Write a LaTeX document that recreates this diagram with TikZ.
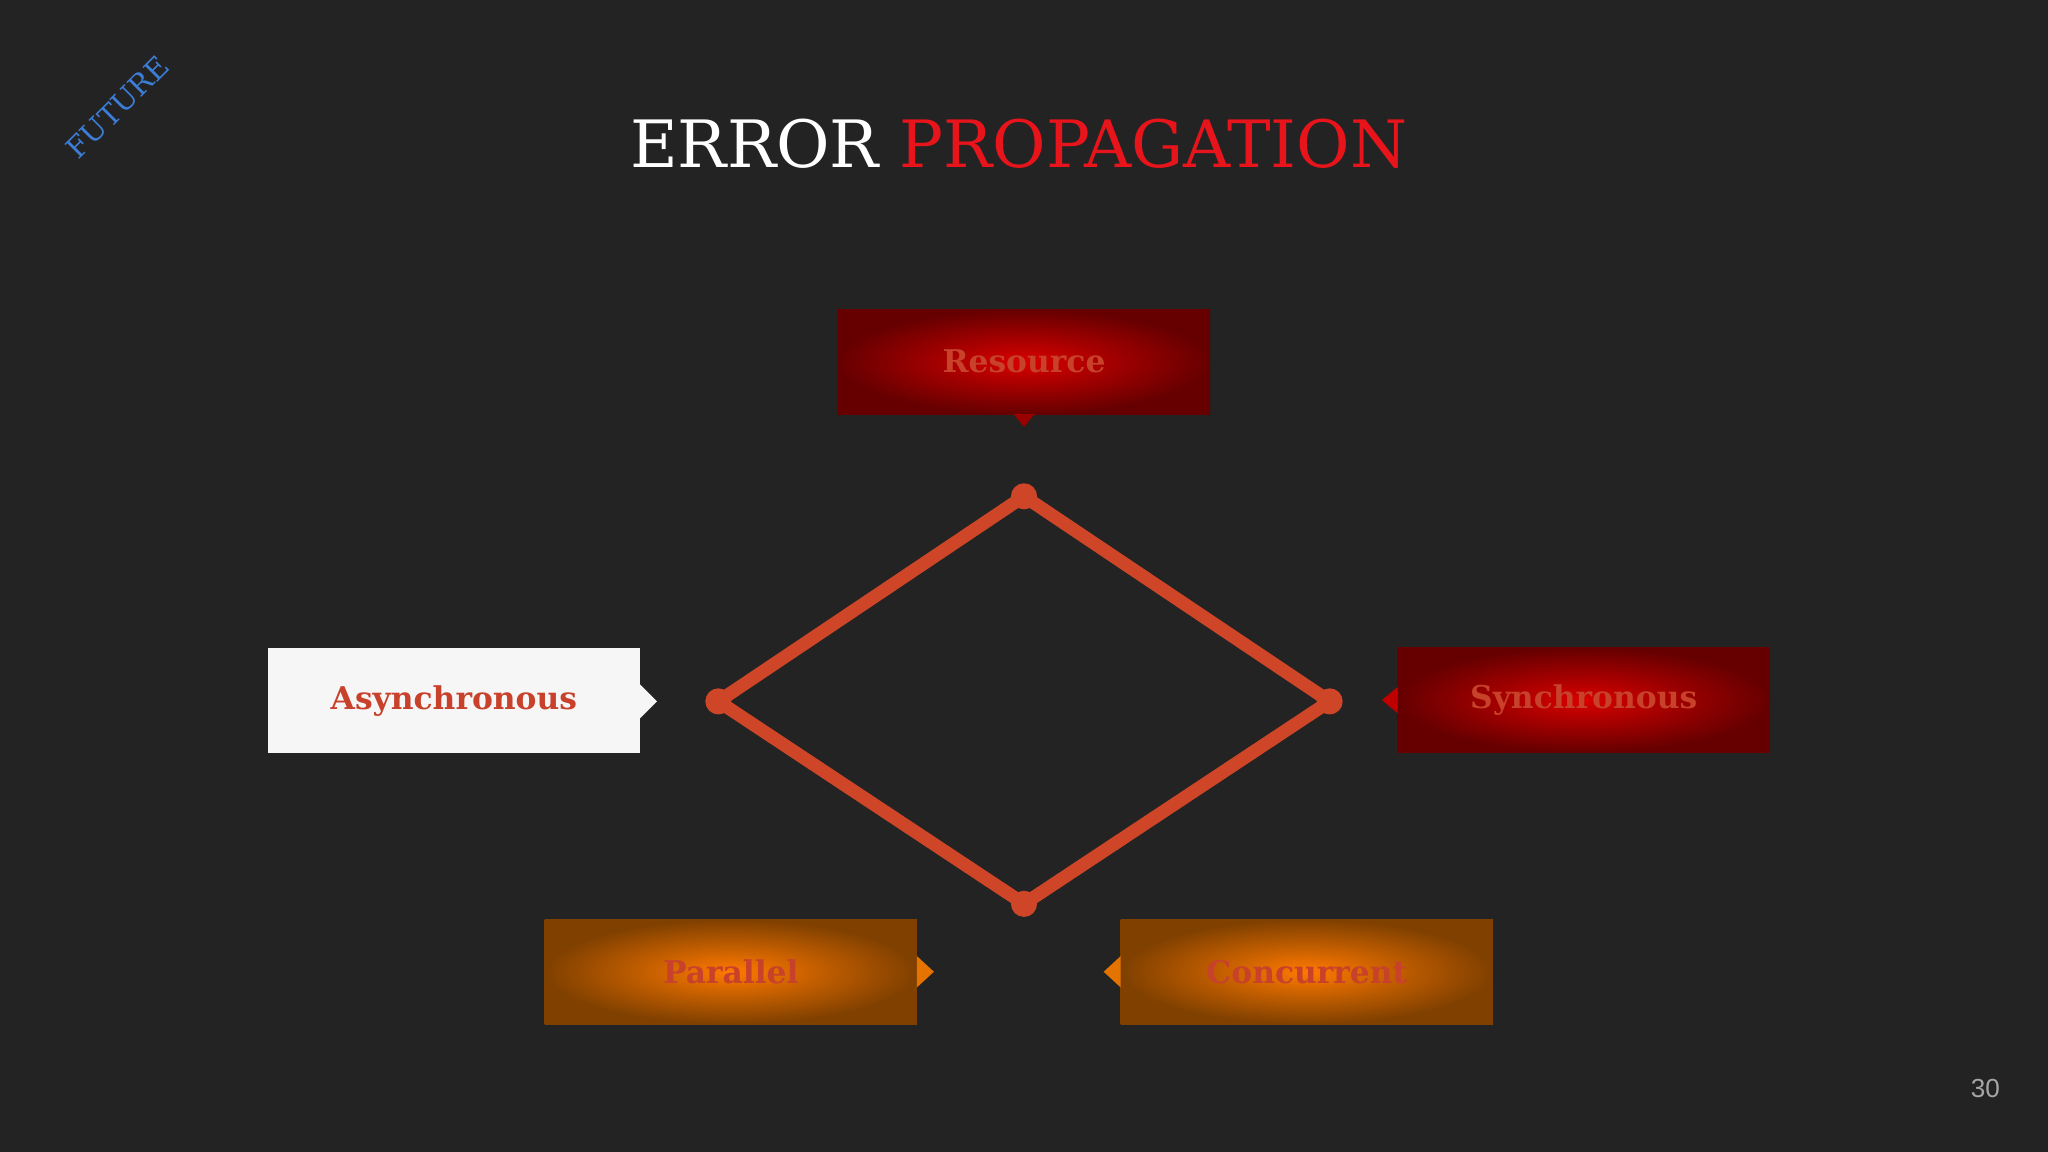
\documentclass[tikz,border=0pt]{standalone}
\usepackage{fontspec}
\setmainfont{DejaVu Serif}
\newfontfamily\numfont{Liberation Sans}
\definecolor{bg}{HTML}{232323}
\definecolor{lnc}{HTML}{CF4527}
\definecolor{txr}{HTML}{C8412A}
\definecolor{ttl}{HTML}{E8141B}
\definecolor{fut}{HTML}{3C7DD6}
\begin{document}
\begin{tikzpicture}[x=0.5pt,y=-0.5pt,
  boxbase/.style={minimum width=142.5pt,minimum height=40pt,inner sep=0pt,font=\bfseries\fontsize{12}{14}\selectfont,text=txr},
  redbox/.style={boxbase,inner color=red!85!black,outer color=red!40!black},
  orbox/.style={boxbase,inner color=orange!95!red,outer color=orange!50!black},
  whitebox/.style={boxbase,fill=white!93!gray},
  dot/.style={circle,fill=lnc,inner sep=0pt,minimum size=10pt}]
\fill[bg] (0,0) rectangle (1568,882);
\node[rotate=45,text=fut,font=\fontsize{11}{13}\selectfont] (fu) at (90,82) {FUTURE};
\node[font=\fontsize{25}{30}\selectfont] (ti) at (780,110) {\textcolor{white}{ERROR} \textcolor{ttl}{PROPAGATION}};
% boxes
\node[redbox] (res) at (784,277) {Resource};
\fill[red!60!black] (776,317) -- (792,317) -- (784,327) -- cycle;
\node[whitebox] (asy) at (347.5,536.5) {Asynchronous};
\fill[white!93!gray] (490,524) -- (503,537) -- (490,550) -- cycle;
\node[redbox] (syn) at (1212.5,536) {Synchronous};
\fill[red!75!black] (1070,526) -- (1058,536) -- (1070,546) -- cycle;
\node[orbox] (par) at (559.5,744) {Parallel};
\fill[orange!90!black] (702,732) -- (715,744) -- (702,756) -- cycle;
\node[orbox] (con) at (1000.5,744) {Concurrent};
\fill[orange!90!black] (858,732) -- (845,744) -- (858,756) -- cycle;
% diamond
\node[dot] (t) at (784,380) {};
\node[dot] (l) at (550,537) {};
\node[dot] (r) at (1018,537) {};
\node[dot] (b) at (784,692) {};
\draw[lnc,line width=5pt,line join=round] (t.center) -- (r.center) -- (b.center) -- (l.center) -- cycle;
\node[text=gray!70,font=\numfont\fontsize{10}{12}\selectfont] (pg) at (1520,833) {30};
\end{tikzpicture}
\end{document}
